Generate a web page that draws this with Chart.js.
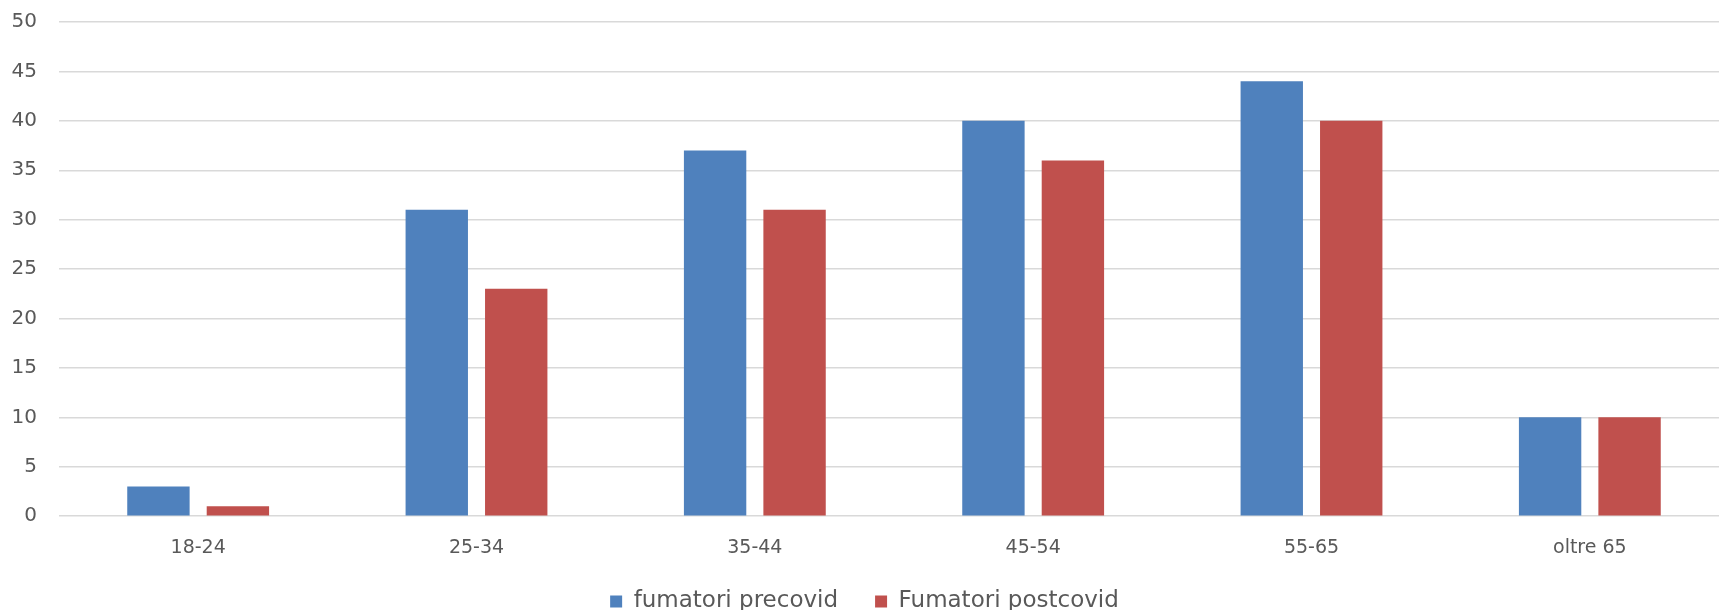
<!DOCTYPE html>
<html>
<head>
<meta charset="utf-8">
<script src="https://cdn.jsdelivr.net/npm/chart.js@4"></script>
<style>
  html, body { margin: 0; padding: 0; background: #fff; overflow: hidden; }
  #wrap { width: 1729px; height: 610px; }
</style>
</head>
<body>
<div id="wrap"><canvas id="mychart" width="1729" height="610"></canvas></div>
<script>
// age groups and the two series
var categories = ['18-24', '25-34', '35-44', '45-54', '55-65', 'oltre 65'];
var precovid = [3, 31, 37, 40, 44, 10];
var postcovid = [1, 23, 31, 36, 40, 10];
var seriesNames = ['fumatori precovid', 'Fumatori postcovid'];
var yTicks = [0, 5, 10, 15, 20, 25, 30, 35, 40, 45, 50];

var textColor = '#595959';
var fontFamily = '"Century Gothic", "DejaVu Sans", sans-serif';

let ctx = document.getElementById('mychart');
let myChart = new Chart(ctx, {
  type: 'bar',
  data: {
    labels: categories,
    datasets: [{
      label: seriesNames[0],
      data: precovid,
      backgroundColor: '#4F81BD',
      barPercentage: 0.785,
      categoryPercentage: 0.571
    }, {
      label: seriesNames[1],
      data: postcovid,
      backgroundColor: '#C0504D',
      barPercentage: 0.785,
      categoryPercentage: 0.571
    }]
  },
  options: {
    responsive: false,
    animation: false,
    layout: { padding: { top: 22, left: 0, right: 0, bottom: -13 } },
    plugins: {
      tooltip: { enabled: false },
      legend: {
        position: 'bottom',
        labels: {
          color: textColor,
          font: { family: fontFamily, size: 23 },
          boxWidth: 12,
          boxHeight: 12,
          padding: 37
        }
      }
    },
    scales: {
      x: {
        grid: { display: false, drawTicks: false },
        border: { display: false },
        // labels stay where they are, the box just leaves less room below them
        afterFit: function(axis) { axis.height = axis.height - 26; },
        ticks: { color: textColor, font: { family: fontFamily, size: 19 }, padding: 20 }
      },
      y: {
        min: yTicks[0],
        max: yTicks[yTicks.length - 1],
        afterBuildTicks: function(axis) {
          axis.ticks = yTicks.map(function(v) { return { value: v }; });
        },
        afterFit: function(axis) {
          axis.width = 59;
          axis.paddingTop = 0;
          axis.paddingBottom = 0;
        },
        grid: { color: '#D9D9D9', lineWidth: 1.5, drawTicks: false },
        border: { display: false },
        ticks: { color: textColor, font: { family: fontFamily, size: 20 }, padding: 22 }
      }
    }
  }
});
</script>
</body>
</html>
